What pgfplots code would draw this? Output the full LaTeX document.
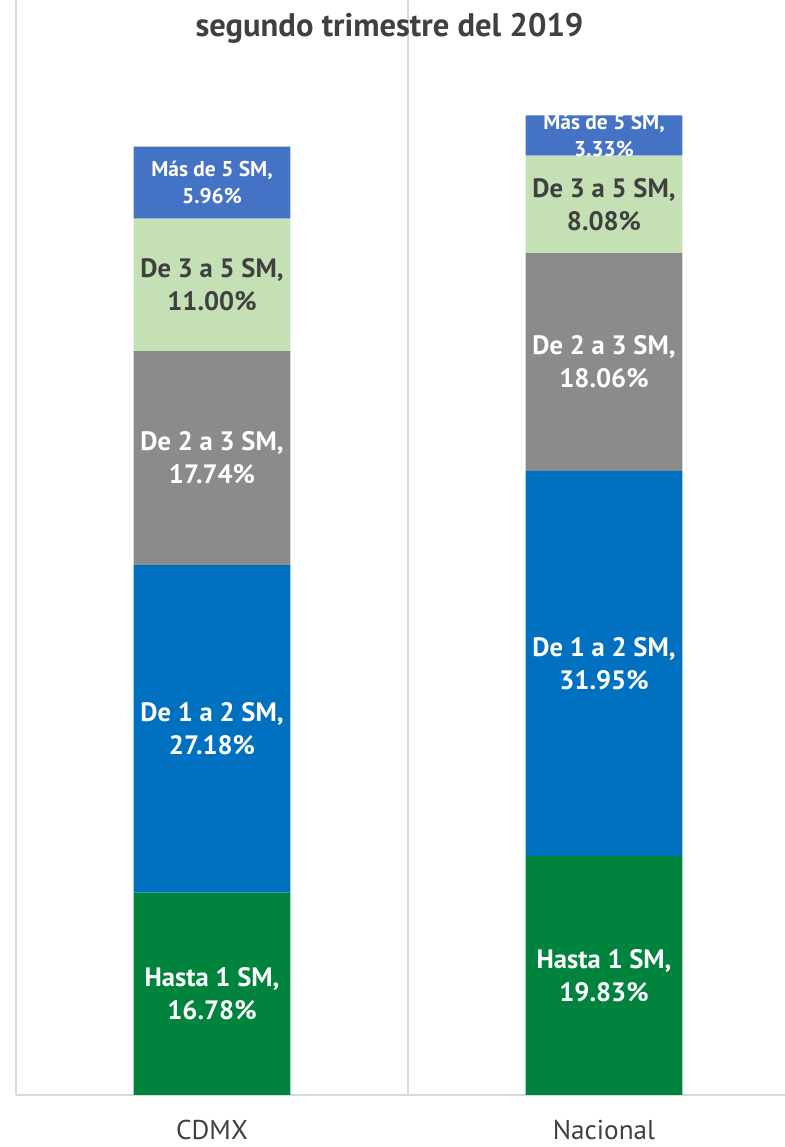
\documentclass[border=0pt]{standalone}
\usepackage{pgfplots}
\pgfplotsset{compat=1.18}
\usepackage{fontspec}
\setmainfont{PT Sans}
\definecolor{cHasta}{HTML}{00843D}
\definecolor{cUno}{HTML}{0070C0}
\definecolor{cDos}{HTML}{898B8C}
\definecolor{cTres}{HTML}{C5E0B4}
\definecolor{cMas}{HTML}{4472C4}
\definecolor{cText}{HTML}{404040}
\definecolor{cGrid}{HTML}{D9D9D9}
\begin{document}
\begin{tikzpicture}
\useasboundingbox (0,0) rectangle (392.5pt,573.5pt);
\pgfplotsset{base/.style={
  at={(8pt,26pt)}, anchor=south west,
  scale only axis, width=392pt, height=547.5pt,
  xmin=-0.5, xmax=1.5, ymin=0, ymax=90.83,
  clip=false}}
\begin{axis}[base,
  ybar stacked, bar width=0.4,
  axis y line=none, axis x line*=bottom,
  x axis line style={cGrid, line width=1pt, -},
  xtick={0,1}, xticklabels={CDMX,Nacional},
  minor xtick={-0.5,0.5,1.5}, xminorgrids=true,
  minor x grid style={cGrid, line width=0.8pt},
  major tick length=0, minor tick length=0,
  xticklabel style={anchor=center, yshift=-17.5pt, font=\fontsize{13.6}{15}\selectfont, text=cText},
]
\addplot[fill=cHasta, draw=none] coordinates {(0,16.78) (1,19.83)};
\addplot[fill=cUno, draw=none] coordinates {(0,27.18) (1,31.95)};
\addplot[fill=cDos, draw=none] coordinates {(0,17.74) (1,18.06)};
\addplot[fill=cTres, draw=none] coordinates {(0,11.00) (1,8.08)};
\addplot[fill=cMas, draw=none] coordinates {(0,5.96) (1,3.33)};
\end{axis}
\begin{axis}[base, axis lines=none, xtick=\empty, ytick=\empty]
\addplot[only marks, mark=none, nodes near coords, point meta=explicit symbolic,
  nodes near coords style={anchor=center, align=center, text=white, font=\bfseries\fontsize{13.3}{16.5}\selectfont}]
  coordinates {
  (0,8.39) [Hasta 1 SM,\\16.78\%]
  (0,30.37) [De 1 a 2 SM,\\27.18\%]
  (0,52.83) [De 2 a 3 SM,\\17.74\%]
  (1,9.915) [Hasta 1 SM,\\19.83\%]
  (1,35.805) [De 1 a 2 SM,\\31.95\%]
  (1,60.81) [De 2 a 3 SM,\\18.06\%]
  };
\addplot[only marks, mark=none, nodes near coords, point meta=explicit symbolic,
  nodes near coords style={anchor=center, align=center, text=cText, font=\bfseries\fontsize{13.3}{16.5}\selectfont}]
  coordinates {
  (0,67.20) [De 3 a 5 SM,\\11.00\%]
  (1,73.88) [De 3 a 5 SM,\\8.08\%]
  };
\addplot[only marks, mark=none, nodes near coords, point meta=explicit symbolic,
  nodes near coords style={anchor=center, align=center, text=white, font=\bfseries\fontsize{10.7}{13.5}\selectfont}]
  coordinates {
  (0,75.68) [Más de 5 SM,\\5.96\%]
  (1,79.585) [Más de 5 SM,\\3.33\%]
  };
\end{axis}
\node[text=cText, font=\bfseries\fontsize{16.3}{19}\selectfont] at (194.75pt,559.5pt) {segundo trimestre del 2019};
\end{tikzpicture}
\end{document}
